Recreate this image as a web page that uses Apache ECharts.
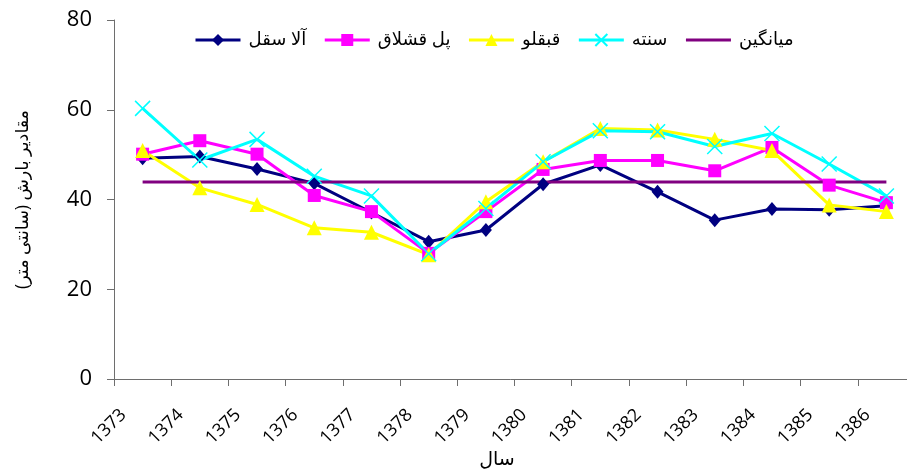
<!DOCTYPE html>
<html><head><meta charset="utf-8">
<script src="https://cdn.jsdelivr.net/npm/echarts@6/dist/echarts.min.js"></script>
<style>html,body{margin:0;padding:0;background:#fff}#c{width:907px;height:470px}</style>
</head><body><div id="c"></div>
<script>
const years = ['1373','1374','1375','1376','1377','1378','1379','1380','1381','1382','1383','1384','1385','1386'];
const alaSaghal = [49.2, 49.6, 46.8, 43.6, 37.1, 30.6, 33.2, 43.4, 47.7, 41.7, 35.4, 37.9, 37.7, 38.6];
const polGheshlagh = [50.1, 53.1, 50.1, 40.9, 37.3, 28.0, 37.3, 46.7, 48.7, 48.7, 46.4, 51.6, 43.2, 39.3];
const ghabghalu = [50.9, 42.6, 38.9, 33.7, 32.7, 27.7, 39.5, 48.4, 55.8, 55.5, 53.4, 50.9, 38.8, 37.3];
const sanateh = [60.3, 48.8, 53.4, 45.2, 40.8, 27.9, 38.0, 48.4, 55.3, 55.1, 51.8, 54.7, 47.9, 40.8];
const average = [43.9, 43.9, 43.9, 43.9, 43.9, 43.9, 43.9, 43.9, 43.9, 43.9, 43.9, 43.9, 43.9, 43.9];
const yTicks = [0, 20, 40, 60, 80];
const names = ['آلا سقل', 'پل قشلاق', 'قبقلو', 'سنته', 'میانگین'];
const yTitle = '\u200Fمقادیر بارش (سانتی متر)\u200F';
const xTitle = 'سال';

const FONT = '"Open Sans", "DejaVu Sans", sans-serif';
const chart = echarts.init(document.getElementById('c'), null, {renderer: 'canvas'});

function mk(name, data, color, symbol, size, extra) {
  return Object.assign({
    name, type: 'line', data,
    symbol, symbolSize: size,
    showAllSymbol: true,
    lineStyle: {color, width: 3},
    itemStyle: {color, borderColor: color, borderWidth: 0},
    emphasis: {disabled: true},
    animation: false
  }, extra || {});
}

chart.setOption({
  backgroundColor: '#fff',
  animation: false,
  textStyle: {fontFamily: FONT, color: '#000'},
  legend: {
    top: 26, left: 189,
    itemWidth: 45, itemHeight: 15, itemGap: 17,
    lineStyle: {width: 3},
    textStyle: {fontSize: 18, color: '#000', fontFamily: FONT, padding: [0, 0, 0, 3]},
    data: names.slice(0, 4).concat([{name: names[4], itemStyle: {color: 'rgba(0,0,0,0)', borderWidth: 0}}])
  },
  grid: {left: 114, right: -8, top: 20, bottom: 91, containLabel: false, outerBoundsMode: 'none'},
  xAxis: {
    type: 'category', data: years, boundaryGap: true,
    name: xTitle, nameLocation: 'middle', nameGap: 71, nameMoveOverlap: false,
    nameTextStyle: {fontSize: 19, color: '#000', fontFamily: FONT, padding: [0, 35, 0, 0]},
    axisLine: {show: true, lineStyle: {color: '#6e6e6e', width: 1}},
    axisTick: {show: true, length: 7, interval: 0, lineStyle: {color: '#6e6e6e'}},
    axisLabel: {interval: 0, rotate: 45, margin: 14, fontSize: 18, color: '#000', fontFamily: FONT, padding: [0, 27, 0, 0]},
    splitLine: {show: false}
  },
  yAxis: {
    type: 'value', min: yTicks[0], max: yTicks[yTicks.length - 1], interval: 20,
    name: yTitle, nameLocation: 'middle', nameGap: 82, nameRotate: 90, nameMoveOverlap: false,
    nameTextStyle: {fontSize: 17.5, color: '#000', fontFamily: FONT},
    axisLine: {show: true, lineStyle: {color: '#6e6e6e', width: 1}},
    axisTick: {show: true, length: 7, lineStyle: {color: '#6e6e6e'}},
    axisLabel: {margin: 22, fontSize: 22, color: '#000', fontFamily: FONT},
    splitLine: {show: false}
  },
  series: [
    mk(names[0], alaSaghal, '#000080', 'diamond', [12, 14]),
    mk(names[1], polGheshlagh, '#FF00FF', 'rect', 13),
    mk(names[2], ghabghalu, '#FFFF00', 'triangle', 15),
    mk(names[3], sanateh, '#00FFFF', 'path://M0,0L10,10M10,0L0,10', 15,
       {itemStyle: {color: '#00FFFF', borderColor: '#00FFFF', borderWidth: 1.5}}),
    mk(names[4], average, '#800080', 'none', 0)
  ]
});
</script>
</body></html>
